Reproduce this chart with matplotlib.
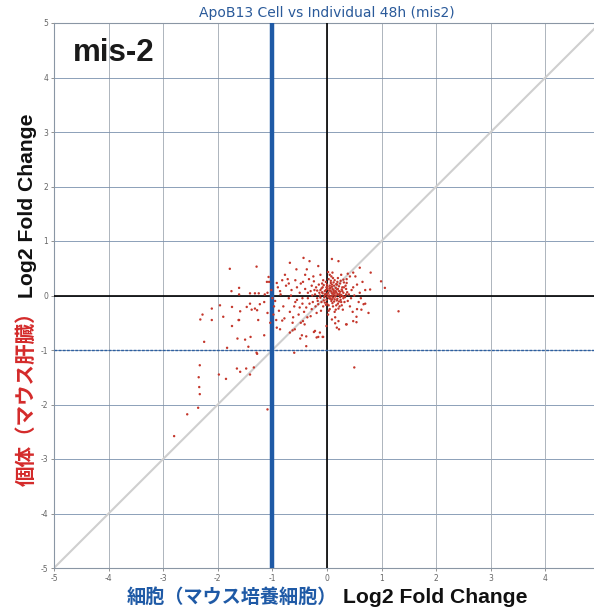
import matplotlib
matplotlib.use("Agg")
import matplotlib.pyplot as plt

title = "ApoB13 Cell vs Individual 48h (mis2)"
panel_label = "mis-2"
xlabel_jp = "細胞（マウス培養細胞）"
ylabel_jp = "個体（マウス肝臓）"
label_en = "Log2 Fold Change"
ticks = [-5, -4, -3, -2, -1, 0, 1, 2, 3, 4, 5]
x_tick_labels = ["-5", "-4", "-3", "-2", "-1", "0", "1", "2", "3", "4", ""]
y_tick_labels = ["-5", "-4", "-3", "-2", "-1", "0", "1", "2", "3", "4", "5"]

# Outlying genes (cell log2FC, individual log2FC)
outlier_x = [-2.80, -2.56, -2.36, -2.33, -2.34, -2.35, -2.33, -2.25, -1.83, -1.44,
             -1.28, -1.65, -1.59, -1.48, -1.34, -1.41, -1.85, -1.09, -1.98, 0.50,
             -0.60, -0.38, -1.75, -1.61, -1.61, -1.96, -2.11, -2.28, -2.32, -2.11,
             -1.90, -1.74, -1.74, -1.61, -1.64, -1.50, -1.40, -1.29, -1.15, -1.29,
             -1.07, -1.06, -1.59, -1.47, -1.41, -1.38, -1.32, -1.28, -1.23, -1.15,
             -1.25, -1.14, -1.09, -1.62, -1.26, -1.09, -1.78, -1.41, -1.32, -1.10]
outlier_y = [-2.58, -2.18, -2.06, -1.81, -1.68, -1.50, -1.28, -0.85, -0.96, -0.94,
             -1.07, -1.34, -1.40, -1.34, -1.32, -1.45, -1.53, -2.09, -1.45, -1.32,
             -1.05, -0.93, 0.08, 0.14, 0.02, -0.18, -0.24, -0.35, -0.44, -0.45,
             -0.39, -0.21, -0.56, -0.45, -0.79, -0.81, -0.76, -1.05, -0.73, 0.53,
             0.34, 0.25, -0.29, -0.21, -0.15, -0.26, -0.24, -0.27, -0.16, -0.12,
             0.04, 0.02, 0.05, -0.45, -0.45, -0.32, 0.49, 0.04, 0.04, 0.25]

# Ring of genes around the main cloud
ring_x = [1.31, 1.06, 0.99, 0.80, 0.79, 0.70, 0.76, 0.60, 0.60, 0.48,
          0.42, 0.36, 0.30, 0.21, 0.09, 0.02, -0.16, -0.32, -0.43, -0.68,
          -0.56, -0.37, -0.77, -0.92, -0.86, 0.48, 0.54, 0.63, 0.67, 0.36,
          0.18, 0.21, 0.09, -0.01, -0.13, -0.07, -0.22, -0.19, -0.38, -0.59,
          -0.68, -0.86, -0.92, -0.63, -0.46, -0.49, -0.24, -0.16, -0.08, 0.22,
          0.54, 0.35, 0.15, -0.48, -0.44, -0.41, -0.82, -0.63, 0.65, 0.70,
          0.52, 0.62, 0.48, 0.55, -1.00, -1.02, -0.97, -1.04]
ring_y = [-0.29, 0.14, 0.26, 0.42, 0.11, -0.15, -0.32, 0.05, 0.51, 0.42,
          0.35, 0.23, 0.29, 0.63, 0.67, 0.43, 0.54, 0.63, 0.69, 0.60,
          0.48, 0.48, 0.38, 0.23, 0.08, -0.47, -0.39, -0.26, -0.16, -0.53,
          -0.59, -0.47, -0.44, -0.56, -0.68, -0.76, -0.65, -0.77, -0.75, -0.62,
          -0.68, -0.62, -0.59, -0.64, -0.73, -0.79, -0.67, -0.76, -0.76, -0.62,
          -0.49, -0.53, -0.51, -0.50, -0.47, -0.53, -0.46, -0.50, 0.25, 0.10,
          0.35, -0.05, 0.15, -0.25, -0.05, 0.10, -0.20, -0.50]

# Dense central cloud
core_x = [0.02, 0.10, -0.05, 0.15, 0.22, 0.05, -0.12, 0.08, 0.18, -0.02,
          0.25, 0.30, -0.18, 0.12, 0.00, 0.06, -0.08, 0.20, 0.28, 0.14,
          -0.22, -0.10, 0.04, 0.17, 0.24, -0.04, 0.09, 0.33, 0.11, -0.15,
          0.01, 0.19, -0.07, 0.26, 0.07, -0.26, 0.13, 0.35, -0.01, 0.16,
          -0.30, 0.03, 0.21, -0.13, 0.27, 0.09, -0.20, 0.40, 0.05, -0.06,
          0.12, 0.23, -0.03, 0.18, -0.09, 0.31, 0.00, -0.16, 0.08, 0.38,
          -0.35, -0.28, 0.14, 0.45, -0.40, -0.11, 0.29, 0.20, -0.24, 0.42,
          -0.45, -0.50, -0.38, 0.50, -0.33, -0.55, 0.36, -0.19, 0.02, 0.26,
          -0.48, -0.60, -0.42, 0.47, -0.65, -0.58, 0.10, -0.30, 0.55, -0.70,
          -0.52, -0.75, 0.38, -0.12, -0.80, 0.58, -0.68, -0.40, 0.15, -0.85,
          -0.95, -0.88, -0.72, -0.62, -0.90, -0.98, -0.55, -0.45, -0.35, -0.28,
          -0.78, -0.66, -0.50, -0.82, -0.58, -0.93, -0.70, -0.44, -0.36, -0.25,
          0.04, 0.06, 0.11, -0.02, 0.16, 0.08, 0.20, -0.06, 0.13, 0.24,
          0.00, 0.10, 0.19, -0.14, 0.28, 0.03, 0.15, 0.07, -0.09, 0.22,
          0.32, 0.17, -0.01, 0.12, 0.26, -0.17, 0.09, 0.21, 0.05, -0.04,
          0.34, 0.14, -0.10, 0.01, 0.23, 0.07, -0.21, 0.30, 0.18, 0.11,
          -0.23, 0.37, -0.07, 0.25, -0.32, 0.44, 0.03, 0.16, -0.27, 0.05,
          0.12, -0.04, 0.27, 0.19, 0.06, -0.12, 0.35, 0.09, 0.22, -0.18,
          0.14, 0.31, -0.02, 0.17, 0.04, 0.29, -0.08, 0.10, 0.24, 0.01]
core_y = [0.05, 0.12, -0.03, -0.02, 0.08, 0.18, 0.10, -0.10, 0.20, 0.25,
          -0.08, 0.05, -0.05, 0.02, -0.15, 0.09, 0.15, -0.15, 0.15, 0.28,
          0.02, -0.12, -0.05, 0.06, 0.22, 0.08, 0.16, -0.03, -0.20, 0.20,
          0.12, -0.06, -0.20, 0.01, 0.23, -0.12, -0.11, 0.12, -0.08, 0.14,
          0.08, 0.30, -0.24, 0.00, -0.18, 0.04, 0.15, 0.02, -0.25, 0.19,
          0.10, 0.03, 0.03, -0.09, 0.06, 0.24, 0.20, -0.16, 0.35, -0.10,
          -0.05, 0.18, -0.30, 0.10, 0.12, -0.28, -0.26, 0.32, 0.26, -0.20,
          -0.15, 0.05, -0.22, 0.00, 0.30, -0.08, 0.30, -0.32, -0.35, 0.38,
          0.22, -0.20, -0.30, -0.30, 0.10, 0.28, 0.42, -0.38, 0.20, -0.05,
          -0.35, 0.18, 0.40, 0.38, -0.20, -0.12, -0.30, 0.38, -0.40, 0.02,
          -0.10, -0.28, 0.30, -0.40, 0.15, -0.35, 0.15, -0.05, 0.05, -0.25,
          -0.42, 0.00, -0.22, 0.28, -0.12, -0.45, 0.22, 0.25, -0.40, 0.35,
          0.00, 0.14, -0.04, 0.10, 0.00, 0.07, 0.12, -0.09, 0.18, -0.03,
          0.02, -0.14, 0.25, 0.05, 0.08, -0.18, 0.08, -0.02, 0.22, 0.17,
          -0.12, -0.18, 0.15, 0.24, -0.12, -0.10, -0.07, 0.01, 0.13, -0.13,
          0.18, 0.04, 0.13, -0.02, -0.20, 0.27, -0.20, -0.05, 0.11, 0.32,
          0.10, 0.06, 0.28, 0.27, -0.15, -0.05, -0.28, -0.26, 0.00, 0.38,
          0.06, 0.01, 0.11, 0.03, -0.06, -0.04, 0.02, 0.20, -0.11, 0.09,
          -0.07, 0.15, -0.17, 0.21, 0.09, -0.01, 0.04, 0.00, 0.07, 0.16]

fig = plt.figure(figsize=(5.94, 6.14), dpi=100)
ax = fig.add_axes([54 / 594, 46 / 614, 546 / 594, 545 / 614])
ax.set_xlim(-5, 5)
ax.set_ylim(-5, 5)

hcol = "#7a90ad"
vcol = "#a0a8b2"
for t in ticks:
    ax.axhline(t, color=hcol, lw=0.6, zorder=1)
    ax.axvline(t, color=vcol, lw=0.6, zorder=1)

ax.plot([-5, 5], [-5, 5], color="#cfcfcf", lw=1.5, zorder=2)
ax.axhline(0, color="black", lw=1.2, zorder=3)
ax.axvline(0, color="black", lw=1.2, zorder=3)
ax.axhline(-1, color="#2d5fa0", lw=1.0, ls=(0, (2, 1)), zorder=3)
ax.axvline(-1, color="#1f5aa6", lw=3.2, zorder=3)

all_x = outlier_x + ring_x + core_x
all_y = outlier_y + ring_y + core_y
ax.scatter(all_x, all_y, s=3, color="#c4372c", edgecolors="none", zorder=4)

ax.set_xticks(ticks)
ax.set_yticks(ticks)
ax.set_xticklabels(x_tick_labels)
ax.set_yticklabels(y_tick_labels)
ax.tick_params(axis="both", labelsize=5.5, colors="#666666", length=2, width=0.5, pad=2)
for s in ax.spines.values():
    s.set_color("#8a96a4")
    s.set_linewidth(0.8)

ax.set_title(title, color="#2a5a9a", fontsize=10, pad=4)
ax.text(0.035, 0.972, panel_label, transform=ax.transAxes, fontsize=22.5,
        fontweight="bold", family="Liberation Sans", ha="left", va="top", color="#1a1a1a")

fig.canvas.draw()
r = fig.canvas.get_renderer()

jp_font = ["Noto Sans CJK JP", "DejaVu Sans"]

# x label: Japanese part (blue) + English (black)
gap_x = 6
tx1 = fig.text(0, 0, xlabel_jp, color="#1f5aa6", fontsize=13.8, fontweight="bold",
               family=jp_font, ha="left", va="baseline")
tx2 = fig.text(0, 0, label_en, color="#111111", fontsize=15.2, fontweight="bold",
               family="Liberation Sans", ha="left", va="baseline")
w1 = tx1.get_window_extent(r).width
w2 = tx2.get_window_extent(r).width
total = w1 + gap_x + w2
x0 = 327 - total / 2
ybase = (614 - 603) / 614
tx1.set_position((x0 / 594, ybase))
tx2.set_position(((x0 + w1 + gap_x) / 594, ybase))

# y label: Japanese part (red) + English (black), rotated
gap_y = 4
ty1 = fig.text(0, 0, ylabel_jp, color="#d42a2a", fontsize=14.8, fontweight="bold",
               family=jp_font, rotation=90, ha="left", va="baseline", rotation_mode="anchor")
ty2 = fig.text(0, 0, label_en, color="#111111", fontsize=15.2, fontweight="bold",
               family="Liberation Sans", rotation=90, ha="left", va="baseline", rotation_mode="anchor")
h1 = ty1.get_window_extent(r).height
h2 = ty2.get_window_extent(r).height
totalh = h1 + gap_y + h2
y0 = (614 - 300) - totalh / 2
xb = 33 / 594
ty1.set_position((xb, y0 / 614))
ty2.set_position((xb, (y0 + h1 + gap_y) / 614))

fig.savefig("out.png", dpi=100)
